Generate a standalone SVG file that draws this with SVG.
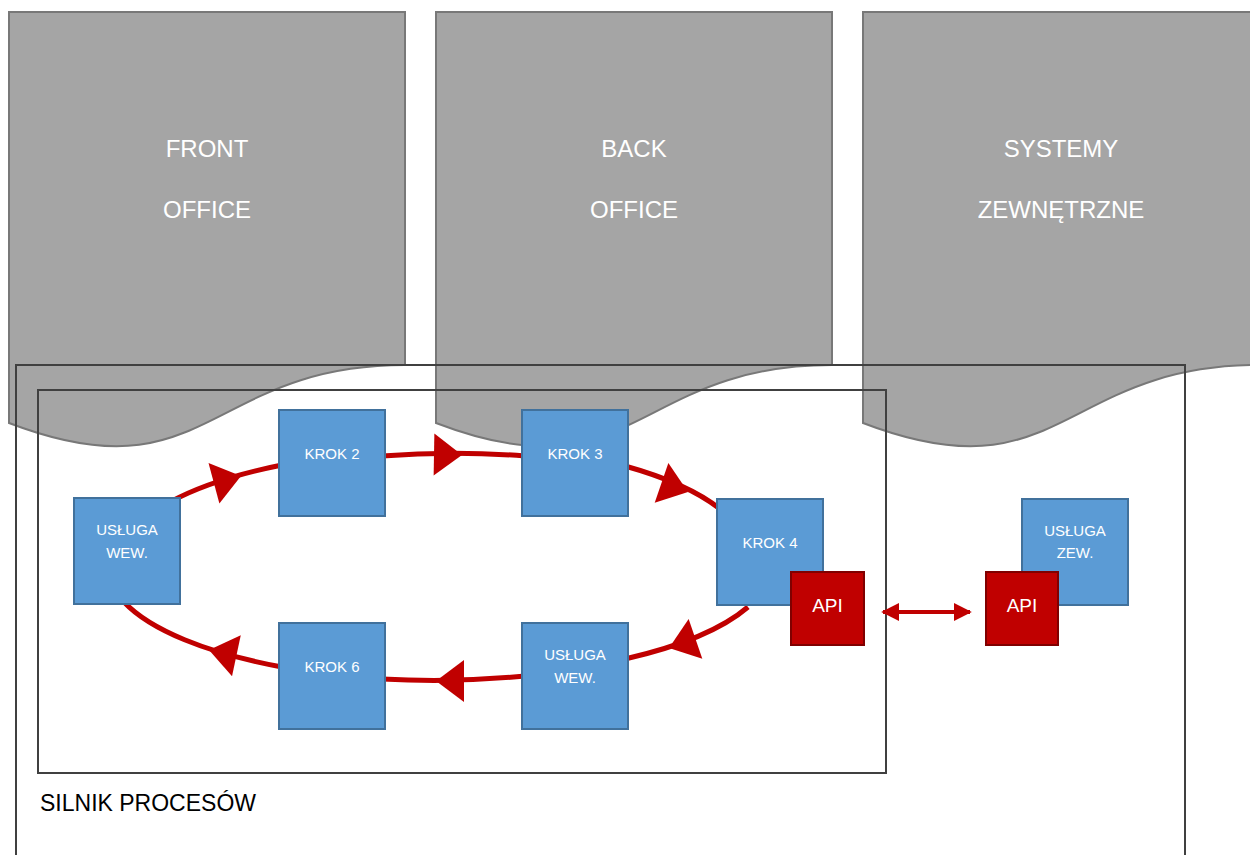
<svg xmlns="http://www.w3.org/2000/svg" width="1250" height="855" viewBox="0 0 1250 855">
<defs>
<style>
.doc{fill:#a5a5a5;stroke:#787878;stroke-width:2}
.doct{fill:#ffffff;font-family:"Liberation Sans",Arial,sans-serif;font-size:24px;text-anchor:middle}
.frame{fill:none;stroke:#404040;stroke-width:2}
.box{fill:#5b9bd5;stroke:#41719c;stroke-width:2}
.api{fill:#c00000;stroke:#800000;stroke-width:2}
.bt{fill:#ffffff;font-family:"Liberation Sans",Arial,sans-serif;font-size:15px;text-anchor:middle}
.at{fill:#ffffff;font-family:"Liberation Sans",Arial,sans-serif;font-size:19px;text-anchor:middle}
.flow{fill:none;stroke:#c00000;stroke-width:5}
.head{fill:#c00000}
</style>
<polygon id="ah" points="0,0 -28,-21 -28,21"/>
<marker id="sm" viewBox="0 0 10 10" refX="9" refY="5" markerWidth="4.5" markerHeight="5" orient="auto-start-reverse" markerUnits="strokeWidth">
<path d="M0,0 L10,5 L0,10 z" fill="#c00000"/>
</marker>
</defs>
<rect width="1250" height="855" fill="#ffffff"/>

<g id="front-office">
<path class="doc" d="M9,12 H405 V365 C207,365 207,499 9,423 Z"/>
<text class="doct" x="207" y="157">FRONT</text>
<text class="doct" x="207" y="218">OFFICE</text>
</g>
<g id="back-office">
<path class="doc" d="M436,12 H832 V365 C634,365 634,499 436,423 Z"/>
<text class="doct" x="634" y="157">BACK</text>
<text class="doct" x="634" y="218">OFFICE</text>
</g>
<g id="systemy-zewnetrzne">
<path class="doc" d="M863,12 H1259 V365 C1061,365 1061,499 863,423 Z"/>
<text class="doct" x="1061" y="157">SYSTEMY</text>
<text class="doct" x="1061" y="218">ZEWNĘTRZNE</text>
</g>

<g id="silnik-procesow">
<rect class="frame" x="16" y="365" width="1169" height="510"/>
<text x="40" y="811" font-family="Liberation Sans, Arial, sans-serif" font-size="23" fill="#000000">SILNIK PROCESÓW</text>
</g>
<g id="proces">
<rect class="frame" x="38" y="390" width="848" height="383"/>
</g>

<g id="connectors">
<path class="flow" d="M170,502 A330,113 0 0 1 282,465"/>
<path class="flow" d="M382,456 A330,113 0 0 1 525,456"/>
<path class="flow" d="M625,466 A330,113 0 0 1 720,509"/>
<path class="flow" d="M748,607 A330,113 0 0 1 625,659"/>
<path class="flow" d="M525,676 A330,113 0 0 1 382,679"/>
<path class="flow" d="M282,667 A330,113 0 0 1 124,602"/>
<use href="#ah" class="head" transform="translate(241,476) rotate(-15)"/>
<use href="#ah" class="head" transform="translate(462,455) rotate(1)"/>
<use href="#ah" class="head" transform="translate(688,492) rotate(19)"/>
<use href="#ah" class="head" transform="translate(669,648) rotate(161)"/>
<use href="#ah" class="head" transform="translate(436,681) rotate(180)"/>
<use href="#ah" class="head" transform="translate(209,650) rotate(192)"/>
<line x1="883" y1="612" x2="970" y2="612" stroke="#c00000" stroke-width="4" marker-start="url(#sm)" marker-end="url(#sm)"/>
</g>

<g id="usluga-wew-1">
<rect class="box" x="74" y="498" width="106" height="106"/>
<text class="bt" x="127" y="535">USŁUGA</text>
<text class="bt" x="127" y="558">WEW.</text>
</g>
<g id="krok-2">
<rect class="box" x="279" y="410" width="106" height="106"/>
<text class="bt" x="332" y="459">KROK 2</text>
</g>
<g id="krok-3">
<rect class="box" x="522" y="410" width="106" height="106"/>
<text class="bt" x="575" y="459">KROK 3</text>
</g>
<g id="krok-4">
<rect class="box" x="717" y="499" width="106" height="106"/>
<text class="bt" x="770" y="548">KROK 4</text>
</g>
<g id="usluga-wew-2">
<rect class="box" x="522" y="623" width="106" height="106"/>
<text class="bt" x="575" y="660">USŁUGA</text>
<text class="bt" x="575" y="683">WEW.</text>
</g>
<g id="krok-6">
<rect class="box" x="279" y="623" width="106" height="106"/>
<text class="bt" x="332" y="672">KROK 6</text>
</g>
<g id="api-1">
<rect class="api" x="791" y="572" width="73" height="73"/>
<text class="at" x="827.5" y="612">API</text>
</g>
<g id="usluga-zew">
<rect class="box" x="1022" y="499" width="106" height="106"/>
<text class="bt" x="1075" y="536">USŁUGA</text>
<text class="bt" x="1075" y="558">ZEW.</text>
</g>
<g id="api-2">
<rect class="api" x="986" y="572" width="72" height="73"/>
<text class="at" x="1022" y="612">API</text>
</g>
</svg>
